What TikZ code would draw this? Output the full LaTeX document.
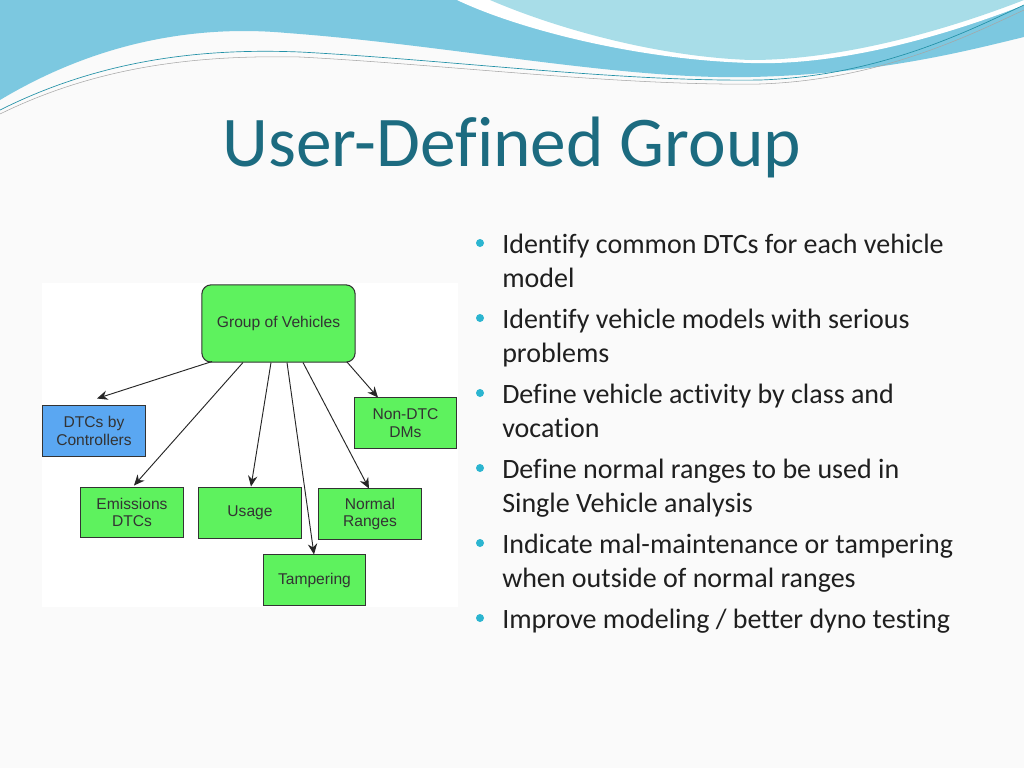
\documentclass[tikz,border=0pt]{standalone}
\usepackage{fontspec}
\setmainfont{Carlito}[Ligatures={NoCommon}]
\newfontfamily\arialf{Liberation Sans}
\usetikzlibrary{arrows.meta}
\definecolor{titlec}{HTML}{1C6B80}
\definecolor{wave}{HTML}{7CC8E0}
\definecolor{wavel}{HTML}{A8DDE8}
\definecolor{gfill}{HTML}{5EF25E}
\definecolor{bfill}{HTML}{5AA7F2}
\definecolor{bul}{HTML}{2BB5D0}
\definecolor{txt}{HTML}{1F1F1F}
\begin{document}
\begin{tikzpicture}[x=0.75pt,y=-0.75pt,
  box/.style={draw=black!80,line width=0.8pt,fill=gfill,minimum width=77pt,minimum height=38pt,align=center,font=\arialf\fontsize{11.7}{13}\selectfont,text=black!80,inner sep=1pt},
  arr/.style={-{Stealth[length=8pt,width=7pt]},line width=0.7pt,draw=black!85},
  btxt/.style={anchor=north west,align=left,font=\fontsize{21}{25.5}\selectfont,text=txt,inner sep=0pt}]
\useasboundingbox (0,0) rectangle (1024,768);
\fill[white!96!gray] (0,0) rectangle (1024,768);
% waves
\fill[wave] (0,0) -- (0,100) .. controls (100,40) and (200,25) .. (287,33) .. controls (450,45) and (620,80) .. (751,77) .. controls (880,74) and (970,50) .. (1024,37) -- (1024,0) -- cycle;
\fill[white] (457,0) .. controls (520,30) and (640,60) .. (751,63) .. controls (850,66) and (960,30) .. (1024,5) -- (1024,0) -- cycle;
\fill[wavel] (490,0) .. controls (560,30) and (660,57) .. (751,60) .. controls (850,60) and (960,25) .. (1024,0) -- cycle;
\draw[bul!80!black,line width=0.5pt] (0,110) .. controls (100,60) and (200,48) .. (300,52) .. controls (450,60) and (620,82) .. (760,80) .. controls (880,76) and (970,30) .. (1024,5);
\draw[gray!70,line width=0.4pt] (0,114) .. controls (100,65) and (200,55) .. (300,57) .. controls (450,65) and (620,86) .. (760,84) .. controls (880,80) and (970,35) .. (1024,10);
% title
\node[font=\fontsize{53.5}{60}\selectfont,text=titlec,inner sep=0pt] (title) at (512,147) {User-Defined Group};
% diagram panel
\fill[white] (42,283) rectangle (458,607);
\node[box,rounded corners=7pt,minimum width=115pt,minimum height=58pt] (g) at (278.5,323.5) {Group of Vehicles};
\node[box,fill=bfill] (dtc) at (94,431) {DTCs by\\Controllers};
\node[box] (non) at (405.5,423) {Non-DTC\\DMs};
\node[box] (em) at (132,512.5) {Emissions\\DTCs};
\node[box] (us) at (250,513) {Usage};
\node[box] (nr) at (370,514) {Normal\\Ranges};
\node[box] (tp) at (314.5,580) {Tampering};
\coordinate (s1) at (212,361.5); \coordinate (s2) at (243,362.5); \coordinate (s3) at (271,362.5);
\coordinate (s4) at (287,362.5); \coordinate (s5) at (303,362.5); \coordinate (s6) at (347,362);
\draw[arr] (s1) -- (97,398.5);
\draw[arr] (s2) -- (134,485.5);
\draw[arr] (s3) -- (251,486.5);
\draw[arr] (s4) -- (314,554.5);
\draw[arr] (s5) -- (369,488.5);
\draw[arr] (s6) -- (378,397.5);
% bullets
\foreach \y/\t [count=\i] in {
 234/{Identify common DTCs for each vehicle\\model},
 309/{Identify vehicle models with serious\\problems},
 384/{Define vehicle activity by class and\\vocation},
 459/{Define normal ranges to be used in\\Single Vehicle analysis},
 534/{Indicate mal-maintenance or tampering\\when outside of normal ranges},
 609/{Improve modeling / better dyno testing}}{
 \fill[bul] (480,\y+9) circle (4);
 \node[btxt] (b\i) at (502,\y) {\t};
}
\end{tikzpicture}
\end{document}
